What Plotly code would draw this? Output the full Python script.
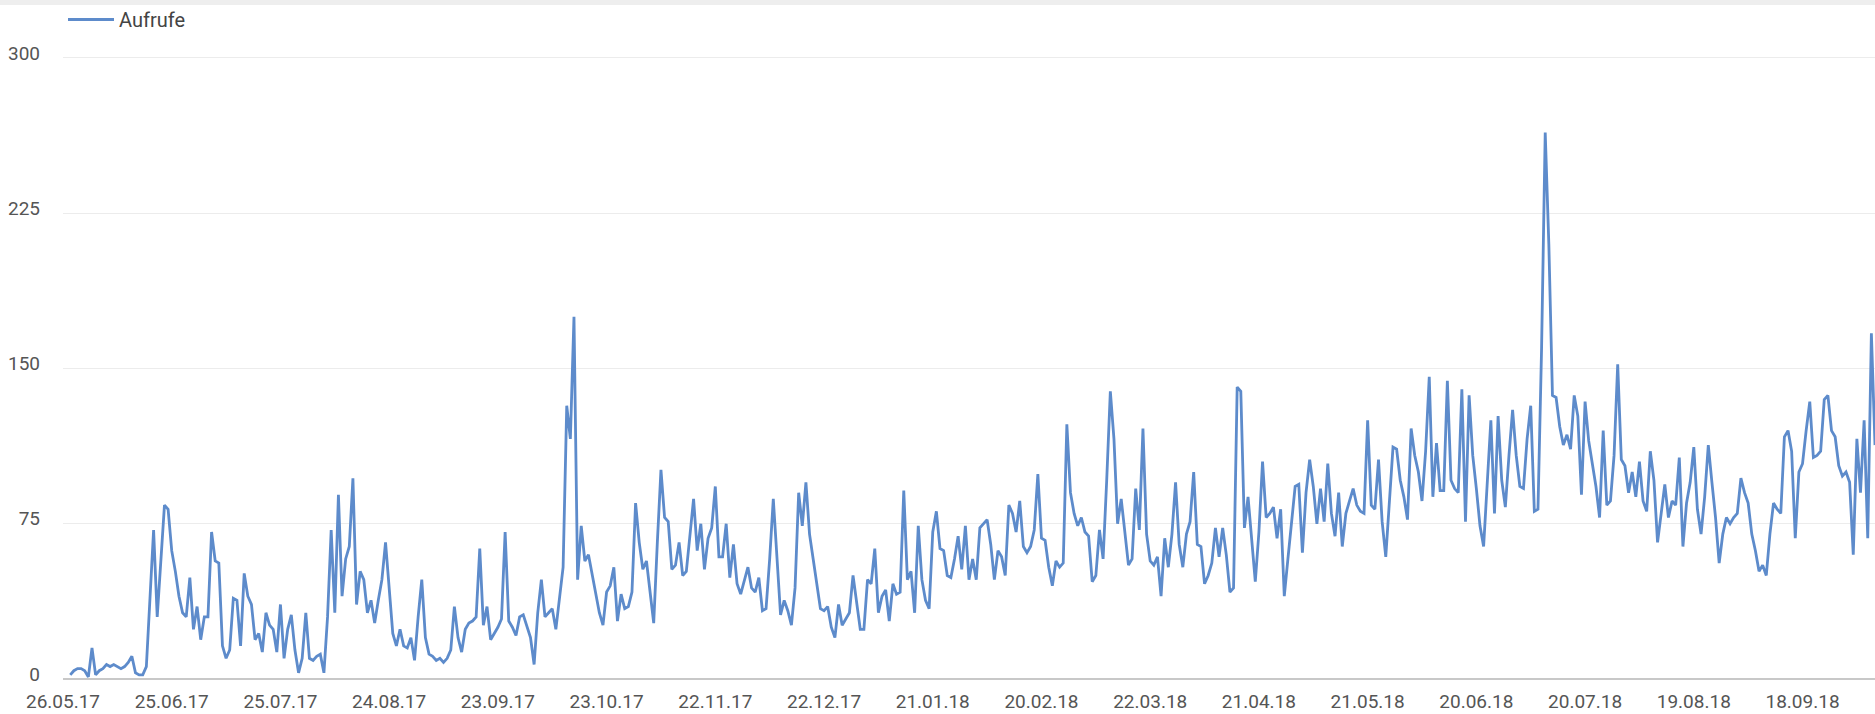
import plotly.graph_objects as go
import pandas as pd

# ---- data (daily page views "Aufrufe") ----
start_date = "2017-05-28"
views_jun17 = [2, 4, 5, 5, 4, 1, 15, 2, 4, 5, 7, 6, 7, 6, 5, 6, 8, 11, 3, 2, 2, 6, 40, 72, 30,
               58, 84, 82, 62, 52, 40, 32, 30, 49, 24, 35, 19, 30, 30, 71, 57, 56, 16, 10, 14, 39, 38, 16]
views_jul17 = [51, 40, 36, 19, 22, 13, 32, 26, 24, 13, 36, 10, 24, 31, 14, 3, 10, 32, 10, 9, 11, 12, 3, 30, 72,
               32, 89, 40, 58, 64, 97, 36, 52, 48, 32, 38, 27, 38, 48, 66, 44, 22, 16, 24, 16, 15, 20, 9, 30, 48]
views_sep17 = [20, 12, 11, 9, 10, 8, 10, 14, 35, 20, 13, 24, 27, 28, 30, 63, 26, 35, 19, 22, 25, 29, 71, 28, 25,
               21, 30, 31, 26, 20, 7, 32, 48, 30, 32, 34, 24, 38, 54, 132, 116, 175, 48, 74, 57, 60, 50, 42, 32, 26]
views_nov17 = [42, 45, 54, 28, 41, 34, 35, 42, 85, 66, 53, 57, 42, 27, 66, 101, 78, 76, 53, 55, 66, 50, 52, 68, 87,
               62, 75, 53, 68, 73, 93, 59, 59, 75, 49, 65, 46, 41, 48, 54, 44, 42, 49, 33, 34, 58, 87, 56, 31]
views_dec17 = [38, 33, 26, 44, 90, 74, 95, 70, 58, 45, 34, 33, 35, 25, 20, 36, 26, 29, 32, 50, 38, 24, 24, 48, 46,
               63, 32, 40, 43, 28, 46, 41, 42, 91, 48, 52, 32, 74, 48, 38, 34, 71, 81, 63, 62, 50, 49, 58, 69]
views_feb18 = [53, 74, 48, 58, 48, 73, 75, 77, 65, 48, 62, 59, 50, 84, 80, 71, 86, 64, 61, 64, 72, 99, 68, 67, 54,
               45, 57, 54, 56, 123, 90, 80, 74, 78, 71, 69, 47, 50, 72, 58, 96, 139, 116, 75, 87, 72, 55, 58, 92, 72, 121]
views_mar18 = [70, 57, 55, 59, 40, 68, 54, 70, 95, 65, 54, 70, 76, 100, 65, 64, 46, 50, 56, 73, 59, 73, 60, 42, 44,
               141, 139, 73, 88, 68, 47, 71, 105, 78, 80, 83, 68, 82, 40, 58, 75, 93, 94, 61, 90, 106, 93, 75, 92, 76]
views_may18 = [104, 80, 69, 90, 64, 80, 86, 92, 84, 81, 80, 125, 84, 82, 106, 76, 59, 86, 112, 111, 96, 88, 77, 121, 108,
               100, 86, 110, 146, 88, 114, 91, 91, 144, 96, 92, 90, 140, 76, 137, 108, 92, 74, 64, 94, 125, 80, 127, 96]
views_jul18 = [83, 108, 130, 108, 93, 92, 116, 132, 81, 82, 160, 264, 210, 137, 136, 122, 113, 118, 111, 137, 127, 89, 134, 115, 105,
               93, 78, 120, 84, 86, 108, 152, 106, 103, 90, 100, 88, 105, 86, 81, 110, 96, 66, 80, 94, 78, 86, 84, 107, 64]
views_aug18 = [85, 95, 112, 82, 70, 88, 113, 95, 78, 56, 70, 78, 75, 78, 80, 97, 90, 85, 70, 62, 52, 55, 50, 70, 85,
               82, 80, 117, 120, 110, 68, 100, 104, 120, 134, 107, 108, 110, 135, 137, 120, 117, 103, 98, 100, 95, 60, 116, 90, 125,
               68, 167, 113]

tick_dates = ["2017-05-26", "2017-06-25", "2017-07-25", "2017-08-24", "2017-09-23", "2017-10-23",
              "2017-11-22", "2017-12-22", "2018-01-21", "2018-02-20", "2018-03-22", "2018-04-21",
              "2018-05-21", "2018-06-20", "2018-07-20", "2018-08-19", "2018-09-18"]
tick_labels = ["26.05.17", "25.06.17", "25.07.17", "24.08.17", "23.09.17", "23.10.17",
               "22.11.17", "22.12.17", "21.01.18", "20.02.18", "22.03.18", "21.04.18",
               "21.05.18", "20.06.18", "20.07.18", "19.08.18", "18.09.18"]
y_ticks = [0, 75, 150, 225, 300]
series_name = "Aufrufe"

views = (views_jun17 + views_jul17 + views_sep17 + views_nov17 + views_dec17 +
         views_feb18 + views_mar18 + views_may18 + views_jul18 + views_aug18)
dates = pd.date_range(start_date, periods=len(views), freq="D")

W, H = 1875, 714
M_L, M_R, M_T, M_B = 63, 0, 40, 35
plot_h = H - M_T - M_B
px_per_unit = 622 / 300.0
px_per_day = 3.624
x0 = pd.Timestamp("2017-05-26")
x1 = x0 + pd.Timedelta(days=(W - M_L - M_R) / px_per_day)

fig = go.Figure()
fig.add_trace(go.Scatter(
    x=dates, y=views, mode="lines", name=series_name,
    line=dict(color="#5d8bcb", width=2.8),
))

font_family = "Roboto, Arial, sans-serif"
fig.update_layout(
    width=W, height=H,
    margin=dict(l=M_L, r=M_R, t=M_T, b=M_B, pad=0),
    paper_bgcolor="white", plot_bgcolor="white",
    font=dict(family=font_family, size=19, color="#555555"),
    showlegend=True,
    legend=dict(x=0.0, xanchor="left", y=1 + 22 / plot_h, yanchor="middle",
                orientation="h", itemwidth=46, font=dict(size=20, color="#444444"),
                bgcolor="rgba(0,0,0,0)"),
    xaxis=dict(range=[x0, x1], tickvals=pd.to_datetime(tick_dates), ticktext=tick_labels,
               showgrid=False, zeroline=False, showline=False, ticks="",
               tickfont=dict(size=19, color="#555555"), ticklabelstandoff=9),
    yaxis=dict(range=[0, plot_h / px_per_unit], tickvals=y_ticks,
               showgrid=True, gridcolor="#ececec", gridwidth=1,
               zeroline=True, zerolinecolor="#c8c8c8", zerolinewidth=2,
               showline=False, ticks="", tickfont=dict(size=19, color="#555555"),
               ticklabelstandoff=22, ticklabelshift=-5),
    shapes=[dict(type="rect", xref="paper", yref="paper", x0=-1, x1=2,
                 y0=1 + (M_T - 4) / plot_h, y1=1 + (M_T + 2) / plot_h,
                 fillcolor="#eeeeee", line=dict(width=0), layer="below")],
)

fig.write_html("out.html", config={"displayModeBar": False},
               post_script="document.body.style.margin='0px';")
